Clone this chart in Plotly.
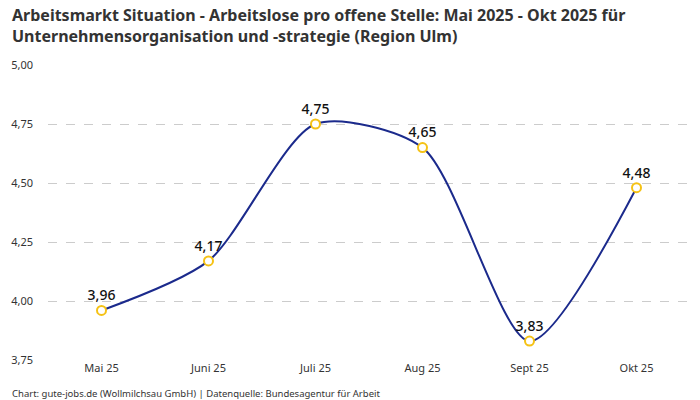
import plotly.graph_objects as go

# Daten
monate = ["Mai 25", "Juni 25", "Juli 25", "Aug 25", "Sept 25", "Okt 25"]
werte = [3.96, 4.17, 4.75, 4.65, 3.83, 4.48]
y_ticks = [3.75, 4.00, 4.25, 4.50, 4.75, 5.00]

titel = ("Arbeitsmarkt Situation - Arbeitslose pro offene Stelle: Mai 2025 - Okt 2025 für<br>"
         "Unternehmensorganisation und -strategie (Region Ulm)")
quelle = "Chart: gute-jobs.de (Wollmilchsau GmbH) | Datenquelle: Bundesagentur für Arbeit"

fig = go.Figure()

fig.add_trace(go.Scatter(
    x=monate,
    y=werte,
    mode="lines+markers+text",
    line=dict(color="#1b2a8c", width=2, shape="spline", smoothing=0.75),
    marker=dict(size=9, color="white", line=dict(color="#f5c215", width=2)),
    text=[f"{v:.2f}".replace(".", ",") for v in werte],
    textposition="top center",
    textfont=dict(family="Noto Sans", size=14, color="#111111", weight=500),
    cliponaxis=False,
    hoverinfo="skip",
))

fig.update_layout(
    width=700,
    height=400,
    separators=",.",
    paper_bgcolor="white",
    plot_bgcolor="white",
    font=dict(family="Noto Sans", color="#333333"),
    showlegend=False,
    margin=dict(l=48, r=10, t=65, b=40),
    xaxis=dict(
        range=[-0.5, 5.5],
        showgrid=False,
        showline=False,
        zeroline=False,
        ticks="",
        tickfont=dict(size=11, color="#333333"),
    ),
    yaxis=dict(
        range=[3.75, 5.0],
        tickvals=y_ticks,
        tickformat=".2f",
        showgrid=True,
        gridcolor="#cccccc",
        griddash="dash",
        gridwidth=1,
        zeroline=False,
        showline=False,
        ticks="",
        ticklabelstandoff=14,
        tickfont=dict(size=11, color="#333333"),
    ),
    annotations=[
        dict(
            text=titel,
            xref="paper", yref="paper",
            x=-0.0592, y=1.215,
            xanchor="left", yanchor="top", align="left",
            showarrow=False,
            font=dict(family="Noto Sans", size=16, color="#333333", weight="bold"),
        ),
        dict(
            text=quelle,
            xref="paper", yref="paper",
            x=-0.0592, y=-0.112,
            xanchor="left", yanchor="middle",
            showarrow=False,
            font=dict(size=9.5, color="#333333"),
        ),
    ],
)

fig.write_html("out.html", config={"displayModeBar": False},
               post_script="document.body.style.margin='0';")
